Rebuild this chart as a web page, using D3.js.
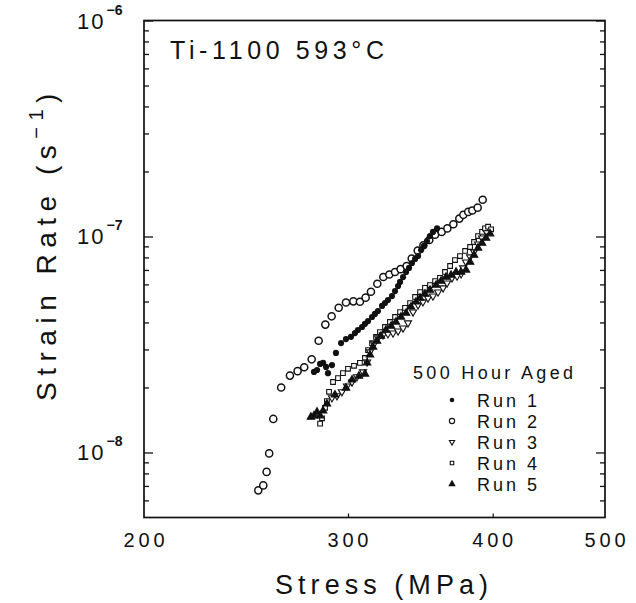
<!DOCTYPE html>
<html>
<head>
<meta charset="utf-8">
<script src="https://cdn.jsdelivr.net/npm/d3@7"></script>
<style>
  body { margin: 0; background: #fff; }
  text { font-family: "Liberation Sans", Arial, sans-serif; fill: #111; }
</style>
</head>
<body>
<svg width="636" height="603"></svg>
<script>
// Data: stress (MPa) vs strain rate (1/s)
const run1Stress = [280.4, 282.1, 283.8, 285.5, 287.2, 288.3, 290.6, 292.9, 295.9, 298.8, 301.8, 304.2, 306.0, 308.5, 310.3, 312.2, 314.7, 316.5, 318.4, 321.0, 322.9, 324.8, 327.4, 329.4, 331.4, 332.7, 334.7, 336.7, 338.7, 340.7, 342.8, 344.8, 346.9, 348.9, 351.0, 353.1, 355.2, 358.1];
const run1Rate = [2.36e-8, 2.41e-8, 2.57e-8, 2.60e-8, 2.49e-8, 2.33e-8, 2.54e-8, 2.89e-8, 3.21e-8, 3.35e-8, 3.43e-8, 3.57e-8, 3.69e-8, 3.81e-8, 3.94e-8, 4.06e-8, 4.24e-8, 4.38e-8, 4.52e-8, 4.77e-8, 4.92e-8, 5.08e-8, 5.30e-8, 5.59e-8, 5.90e-8, 6.16e-8, 6.49e-8, 6.85e-8, 7.15e-8, 7.54e-8, 7.87e-8, 8.12e-8, 8.66e-8, 9.04e-8, 9.53e-8, 1.005e-7, 1.05e-7, 1.09e-7];

const run2Stress = [251.0, 253.5, 255.2, 256.5, 258.6, 262.7, 267.3, 271.4, 275.0, 279.1, 283.0, 286.8, 290.4, 294.5, 298.8, 303.2, 307.2, 310.7, 314.0, 318.0, 321.8, 325.7, 329.4, 333.1, 337.1, 340.5, 344.6, 348.5, 352.6, 356.7, 361.4, 365.5, 369.9, 374.3, 377.3, 381.0, 384.1, 388.2, 392.1];
const run2Rate = [6.68e-9, 7.04e-9, 8.13e-9, 9.9e-9, 1.43e-8, 2.00e-8, 2.27e-8, 2.38e-8, 2.48e-8, 2.70e-8, 3.29e-8, 3.91e-8, 4.27e-8, 4.68e-8, 4.95e-8, 5.01e-8, 4.99e-8, 5.21e-8, 5.55e-8, 6.04e-8, 6.49e-8, 6.67e-8, 6.85e-8, 7.06e-8, 7.30e-8, 7.91e-8, 8.60e-8, 9.11e-8, 9.63e-8, 1.02e-7, 1.05e-7, 1.09e-7, 1.14e-7, 1.21e-7, 1.26e-7, 1.30e-7, 1.32e-7, 1.36e-7, 1.48e-7];

const run3Stress = [290.6, 293.5, 296.4, 299.4, 302.4, 305.4, 309.1, 311.6, 313.4, 315.9, 318.4, 321.6, 324.8, 328.1, 331.4, 334.7, 338.0, 341.4, 344.8, 348.2, 351.7, 355.2, 358.8, 362.4, 365.3, 368.9, 372.6, 375.6, 377.1, 379.3, 382.4, 385.4, 388.5, 391.6, 395.5];
const run3Rate = [1.79e-8, 1.83e-8, 1.91e-8, 2.03e-8, 2.12e-8, 2.24e-8, 2.36e-8, 2.62e-8, 2.92e-8, 3.18e-8, 3.39e-8, 3.50e-8, 3.54e-8, 3.57e-8, 3.65e-8, 3.77e-8, 3.98e-8, 4.47e-8, 4.82e-8, 4.98e-8, 5.19e-8, 5.30e-8, 5.53e-8, 5.78e-8, 6.09e-8, 6.43e-8, 6.56e-8, 6.71e-8, 7.15e-8, 7.62e-8, 8.04e-8, 8.48e-8, 9.23e-8, 9.84e-8, 1.04e-7];

const run4Stress = [283.8, 284.9, 286.6, 287.7, 288.9, 291.2, 294.1, 297.0, 300.0, 303.6, 307.2, 310.3, 312.2, 314.7, 317.2, 319.7, 322.9, 326.1, 329.4, 332.7, 336.0, 339.4, 342.8, 346.2, 349.6, 353.1, 356.7, 360.2, 363.8, 367.5, 371.1, 374.8, 378.6, 382.4, 385.4, 388.5, 391.6, 393.9, 396.3, 398.7];
const run4Rate = [1.36e-8, 1.44e-8, 1.61e-8, 1.73e-8, 1.91e-8, 2.12e-8, 2.21e-8, 2.33e-8, 2.44e-8, 2.52e-8, 2.60e-8, 2.74e-8, 2.98e-8, 3.21e-8, 3.43e-8, 3.61e-8, 3.81e-8, 4.02e-8, 4.24e-8, 4.47e-8, 4.67e-8, 4.92e-8, 5.25e-8, 5.53e-8, 5.78e-8, 5.96e-8, 6.22e-8, 6.43e-8, 6.85e-8, 7.30e-8, 7.78e-8, 8.12e-8, 8.57e-8, 8.94e-8, 9.43e-8, 1.005e-7, 1.05e-7, 1.09e-7, 1.11e-7, 1.08e-7];

const run5Stress = [278.7, 280.4, 282.1, 283.8, 285.5, 287.7, 292.3, 298.8, 302.4, 306.6, 310.3, 311.6, 313.4, 315.3, 317.8, 320.3, 323.5, 326.8, 330.0, 333.3, 336.7, 340.0, 343.4, 346.2, 349.6, 353.1, 357.4, 360.9, 364.5, 368.2, 371.9, 375.6, 379.3, 382.4, 385.4, 388.5, 391.6, 394.7, 397.9];
const run5Rate = [1.46e-8, 1.48e-8, 1.54e-8, 1.48e-8, 1.56e-8, 1.68e-8, 1.85e-8, 1.99e-8, 2.17e-8, 2.26e-8, 2.31e-8, 2.60e-8, 2.83e-8, 3.08e-8, 3.28e-8, 3.46e-8, 3.69e-8, 3.85e-8, 4.02e-8, 4.24e-8, 4.42e-8, 4.72e-8, 4.98e-8, 5.19e-8, 5.42e-8, 5.65e-8, 5.96e-8, 6.22e-8, 6.49e-8, 6.63e-8, 6.85e-8, 6.85e-8, 7.00e-8, 7.62e-8, 8.21e-8, 8.85e-8, 9.33e-8, 9.84e-8, 1.03e-7];

const runNames = ["Run 1", "Run 2", "Run 3", "Run 4", "Run 5"];
const xTickValues = [200, 300, 400, 500];
const yMajorValues = [1e-8, 1e-7, 1e-6];
const yMajorExponents = ["\u22128", "\u22127", "\u22126"];

const svg = d3.select("svg");

const x = d3.scaleLog().domain([200, 500]).range([144, 605]);
const y = d3.scaleLog().domain([5e-9, 1e-6]).range([517.5, 20.5]);

// marker styles, one per run
const markers = [
  { type: d3.symbolCircle, size: 30, fill: "#111", stroke: "none", rot: 0 },
  { type: d3.symbolCircle, size: 40, fill: "#fff", stroke: "#111", rot: 0 },
  { type: d3.symbolTriangle, size: 22, fill: "#fff", stroke: "#111", rot: 180 },
  { type: d3.symbolSquare, size: 22, fill: "#fff", stroke: "#111", rot: 0 },
  { type: d3.symbolTriangle, size: 24, fill: "#111", stroke: "#111", rot: 0 }
];

const runs = [
  { stress: run1Stress, rate: run1Rate },
  { stress: run2Stress, rate: run2Rate },
  { stress: run3Stress, rate: run3Rate },
  { stress: run4Stress, rate: run4Rate },
  { stress: run5Stress, rate: run5Rate }
];

// Frame
svg.append("rect")
    .attr("x", 144).attr("y", 20.5)
    .attr("width", 605 - 144).attr("height", 517.5 - 20.5)
    .attr("fill", "none")
    .attr("stroke", "#111")
    .attr("stroke-width", 1.7);

// Y ticks (inside, both sides)
const yMinor = y.ticks().filter(v => yMajorValues.indexOf(v) < 0 && v > 5e-9 && v < 1e-6);

function tickGroup(axis, tx) {
  const g = svg.append("g").attr("transform", "translate(" + tx + ",0)").call(axis);
  g.select(".domain").remove();
  g.selectAll(".tick line").attr("stroke", "#111").attr("stroke-width", 1.3);
  return g;
}

tickGroup(d3.axisLeft(y).tickValues(yMinor).tickSize(-5).tickFormat(""), 144);
tickGroup(d3.axisLeft(y).tickValues(yMajorValues).tickSize(-9).tickFormat(""), 144);
tickGroup(d3.axisRight(y).tickValues(yMinor).tickSize(-5).tickFormat(""), 605);
tickGroup(d3.axisRight(y).tickValues(yMajorValues).tickSize(-9).tickFormat(""), 605);

// X ticks (small, bottom)
const gx = svg.append("g").attr("transform", "translate(0,517.5)")
    .call(d3.axisBottom(x).tickValues([300, 400]).tickSize(-4).tickFormat(""));
gx.select(".domain").remove();
gx.selectAll(".tick line").attr("stroke", "#111").attr("stroke-width", 1.2);

// X tick labels
svg.append("g").selectAll("text")
  .data(xTickValues).enter()
  .append("text")
    .attr("x", d => x(d) - 20.5)
    .attr("y", 547)
    .attr("textLength", 41)
    .attr("lengthAdjust", "spacing")
    .style("font-size", "20px")
    .text(d => d);

// Y tick labels: 10 with superscript exponent
const yl = svg.append("g").selectAll("text")
  .data(yMajorValues).enter()
  .append("text")
    .attr("x", 77)
    .attr("y", d => y(d) + 8)
    .style("font-size", "22px");
yl.append("tspan").text("10").attr("letter-spacing", "2px");
yl.append("tspan")
    .attr("dx", 1)
    .attr("dy", -14)
    .style("font-size", "14px")
    .style("font-weight", "bold")
    .text((d, i) => yMajorExponents[i]);

// Axis titles
svg.append("text")
    .attr("x", 275)
    .attr("y", 594)
    .attr("textLength", 213)
    .attr("lengthAdjust", "spacing")
    .style("font-size", "27px")
    .text("Stress (MPa)");

const yt = svg.append("text")
    .attr("transform", "translate(56,244)rotate(-90)")
    .attr("text-anchor", "middle")
    .attr("letter-spacing", "6.5px")
    .style("font-size", "28px");
yt.append("tspan").text("Strain Rate (s");
yt.append("tspan").attr("dy", -13).style("font-size", "20px").text("\u22121");
yt.append("tspan").attr("dy", 13).text(")");

// Plot title
svg.append("text")
    .attr("x", 170)
    .attr("y", 59)
    .attr("textLength", 214)
    .attr("lengthAdjust", "spacing")
    .style("font-size", "25px")
    .text("Ti-1100 593\u00B0C");

// Data points
const order = [1, 0, 3, 2, 4];
order.forEach(function (k) {
  const m = markers[k];
  const sym = d3.symbol().type(m.type).size(m.size);
  svg.append("g").selectAll("path")
    .data(runs[k].stress.map((s, i) => [s, runs[k].rate[i]]))
    .enter()
    .append("path")
      .attr("d", sym)
      .attr("transform", d => "translate(" + x(d[0]) + "," + y(d[1]) + ")rotate(" + m.rot + ")")
      .attr("fill", m.fill)
      .attr("stroke", m.stroke)
      .attr("stroke-width", k === 1 ? 1.5 : 1.1);
});

// Legend
svg.append("text")
    .attr("x", 413)
    .attr("y", 379)
    .attr("textLength", 160)
    .attr("lengthAdjust", "spacing")
    .style("font-size", "18px")
    .text("500 Hour Aged");

const legendRows = svg.append("g").selectAll("g")
  .data(runNames).enter()
  .append("g")
    .attr("transform", (d, i) => "translate(0," + (400 + i * 21) + ")");

legendRows.append("path")
    .attr("d", (d, i) => d3.symbol().type(markers[i].type).size(markers[i].size * 0.55)())
    .attr("transform", (d, i) => "translate(452,0)rotate(" + markers[i].rot + ")")
    .attr("fill", (d, i) => markers[i].fill)
    .attr("stroke", (d, i) => markers[i].stroke)
    .attr("stroke-width", 1.1);

legendRows.append("text")
    .attr("x", 477)
    .attr("y", 6.5)
    .attr("textLength", 60)
    .attr("lengthAdjust", "spacing")
    .style("font-size", "18px")
    .text(d => d);
</script>
</body>
</html>
